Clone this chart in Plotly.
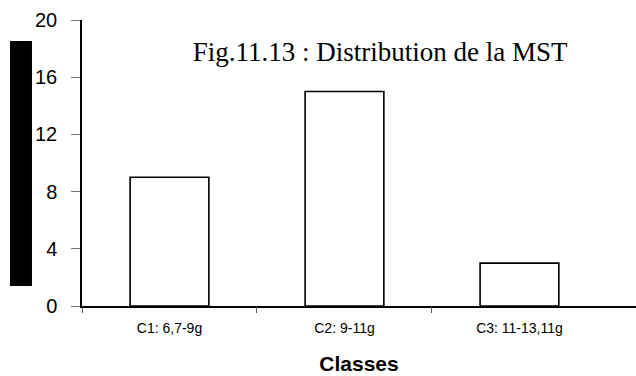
import plotly.graph_objects as go

# Class counts for the MST distribution
categories = ["C1: 6,7-9g", "C2: 9-11g", "C3: 11-13,11g"]
counts = [9, 15, 3]
y_ticks = [0, 4, 8, 12, 16, 20]

x_range = [-0.5, 2.666]

fig = go.Figure()
fig.add_trace(go.Bar(
    x=list(range(len(categories))),
    y=counts,
    width=0.45,
    marker=dict(color="white", line=dict(color="black", width=1.6)),
    showlegend=False,
    hoverinfo="skip",
))

# Invisible trace on the overlay axis so it renders its boundary ticks
fig.add_trace(go.Scatter(x=[0], y=[0], xaxis="x2", mode="markers",
                         marker=dict(opacity=0), showlegend=False, hoverinfo="skip"))

fig.update_layout(
    width=636, height=376,
    margin=dict(l=82, r=0, t=20, b=70),
    paper_bgcolor="white", plot_bgcolor="white",
    font=dict(family="Liberation Sans, Arial, sans-serif", color="black"),
    title=dict(
        text="Fig.11.13 : Distribution de la MST",
        font=dict(family="Liberation Serif, Times New Roman, serif", size=27, color="black"),
        xref="paper", x=0.538, xanchor="center",
        yref="container", y=0.862, yanchor="middle",
    ),
    xaxis=dict(
        range=x_range,
        tickmode="array",
        tickvals=list(range(len(categories))),
        ticktext=categories,
        ticks="",
        ticklabelstandoff=8,
        tickfont=dict(size=14),
        showline=True, linecolor="black", linewidth=1.5,
        showgrid=False, zeroline=False,
        title=dict(text="<b>Classes</b>", font=dict(size=21), standoff=22),
    ),
    xaxis2=dict(
        overlaying="x", anchor="y", side="bottom",
        range=x_range,
        tickmode="array", tickvals=[-0.5, 0.5, 1.5],
        ticks="outside", ticklen=6, tickcolor="#555555", tickwidth=1,
        showticklabels=False, showgrid=False, zeroline=False, showline=False,
    ),
    yaxis=dict(
        range=[0, 20],
        tickmode="array", tickvals=y_ticks,
        ticks="outside", ticklen=9, tickcolor="#777777", tickwidth=1.2,
        ticklabelstandoff=10,
        tickfont=dict(size=20),
        showline=True, linecolor="black", linewidth=1.5,
        showgrid=False, zeroline=False,
    ),
    shapes=[dict(
        type="rect", xref="paper", yref="paper",
        x0=-0.130, x1=-0.0903, y0=0.0699, y1=0.9266,
        fillcolor="black", line=dict(width=0),
    )],
)

fig.write_html("out.html")
